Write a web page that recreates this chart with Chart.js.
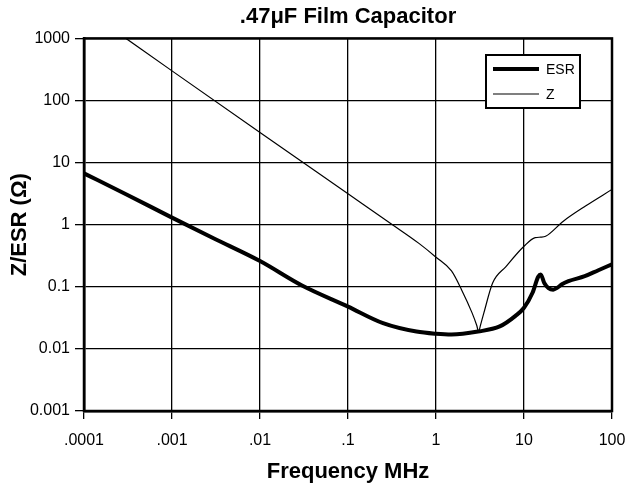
<!DOCTYPE html>
<html>
<head>
<meta charset="utf-8">
<script src="https://cdn.jsdelivr.net/npm/chart.js@4.4.0/dist/chart.umd.min.js"></script>
<style>
  html, body { margin: 0; padding: 0; background: #fff; }
  #wrap { width: 629px; height: 485px; }
</style>
</head>
<body>
<div id="wrap"><canvas id="grafico"></canvas></div>
<script>
const xTicks = [0.0001, 0.001, 0.01, 0.1, 1, 10, 100];
const xTickLabels = ['.0001', '.001', '.01', '.1', '1', '10', '100'];
const yTicks = [0.001, 0.01, 0.1, 1, 10, 100, 1000];
const yTickLabels = ['0.001', '0.01', '0.1', '1', '10', '100', '1000'];

const esrFreq = [0.0001, 0.0003, 0.001, 0.003, 0.01, 0.03, 0.1, 0.25, 0.6, 1, 1.5, 3, 5.3, 8, 10, 12.5, 14.5, 15.5, 17, 19, 21.5, 24, 27, 32, 49, 70, 100];
const esrVals = [6.7, 3.1, 1.3, 0.6, 0.26, 0.105, 0.048, 0.026, 0.019, 0.0175, 0.017, 0.019, 0.023, 0.034, 0.046, 0.08, 0.145, 0.158, 0.115, 0.095, 0.09, 0.097, 0.11, 0.123, 0.148, 0.185, 0.23];

const zFreq = [0.0003, 0.001, 0.01, 0.1, 0.32, 0.64, 1, 1.5, 1.95, 2.57, 2.9, 3.05, 3.2, 3.5, 4.4, 6.2, 10, 13.4, 15.5, 17.6, 28, 50, 100];
const zVals = [1000, 300, 30.5, 3.15, 1.0, 0.5, 0.3, 0.18, 0.09, 0.038, 0.024, 0.019, 0.024, 0.038, 0.115, 0.21, 0.45, 0.62, 0.63, 0.65, 1.14, 2.0, 3.7];

const FONT = "'Liberation Sans', Arial, Helvetica, sans-serif";

function punti(fx, fy) {
    return fx.map((f, i) => ({ x: f, y: fy[i] }));
}

// cornice attorno all'area del grafico + legenda con bordo
const cornice = {
    id: 'cornice',
    afterDatasetsDraw(chart) {
        const ctx = chart.ctx, a = chart.chartArea;
        ctx.save();
        ctx.strokeStyle = '#000';
        ctx.lineWidth = 2.5;
        ctx.strokeRect(a.left, a.top, a.right - a.left, a.bottom - a.top);

        const bx = 486, by = 55, bw = 94, bh = 53;
        ctx.fillStyle = '#fff';
        ctx.fillRect(bx, by, bw, bh);
        ctx.lineWidth = 2;
        ctx.strokeRect(bx, by, bw, bh);
        ctx.font = '14px ' + FONT;
        ctx.textBaseline = 'middle';
        chart.data.datasets.forEach((ds, i) => {
            const y = by + 14 + i * 25;
            ctx.beginPath();
            ctx.lineWidth = ds.borderWidth;
            ctx.moveTo(bx + 7, y);
            ctx.lineTo(bx + 53, y);
            ctx.stroke();
            ctx.fillStyle = '#000';
            ctx.fillText(ds.label, bx + 60, y + 1);
        });
        ctx.restore();
    }
};

const ctx = document.getElementById('grafico').getContext('2d');
new Chart(ctx, {
    type: 'line',
    data: {
        datasets: [
            { label: 'ESR', data: punti(esrFreq, esrVals), borderColor: '#000', borderWidth: 4, pointRadius: 0, cubicInterpolationMode: 'monotone', fill: false },
            { label: 'Z', data: punti(zFreq, zVals), borderColor: '#000', borderWidth: 1.2, pointRadius: 0, cubicInterpolationMode: 'monotone', fill: false }
        ]
    },
    options: {
        responsive: true, maintainAspectRatio: false, animation: false,
        layout: { padding: { left: 0, right: 17, top: 0, bottom: 0 } },
        plugins: {
            legend: { display: false },
            tooltip: { enabled: false },
            title: {
                display: true, fullSize: false, text: '.47\u03bcF Film Capacitor', color: '#000',
                font: { family: FONT, size: 22, weight: 'bold' },
                padding: { top: 4, bottom: 8 }
            }
        },
        scales: {
            x: {
                type: 'logarithmic', min: 0.0001, max: 100,
                afterBuildTicks: (s) => { s.ticks = xTicks.map(v => ({ value: v })); },
                afterFit: (s) => { s.height = 74; s.paddingLeft = 0; s.paddingRight = 0; },
                ticks: {
                    color: '#000', font: { family: FONT, size: 16 }, padding: 12, maxRotation: 0,
                    callback: (v) => xTickLabels[xTicks.indexOf(v)] ?? ''
                },
                grid: { color: '#000', lineWidth: 1.3, tickLength: 8, drawTicks: true },
                border: { color: '#000', width: 2.5 },
                title: { display: true, text: 'Frequency MHz', color: '#000', font: { family: FONT, size: 22, weight: 'bold' }, padding: { top: 2, bottom: 0 } }
            },
            y: {
                type: 'logarithmic', min: 0.001, max: 1000,
                afterBuildTicks: (s) => { s.ticks = yTicks.map(v => ({ value: v })); },
                afterFit: (s) => { s.width = 84; },
                ticks: {
                    color: '#000', font: { family: FONT, size: 16 }, padding: 5,
                    callback: (v) => yTickLabels[yTicks.indexOf(v)] ?? ''
                },
                grid: { color: '#000', lineWidth: 1.3, tickLength: 9, drawTicks: true },
                border: { color: '#000', width: 2.5 },
                title: { display: true, text: 'Z/ESR (\u03a9)', color: '#000', font: { family: FONT, size: 22, weight: 'bold' }, padding: { top: 7, bottom: 0 } }
            }
        }
    },
    plugins: [cornice]
});
</script>
</body>
</html>
